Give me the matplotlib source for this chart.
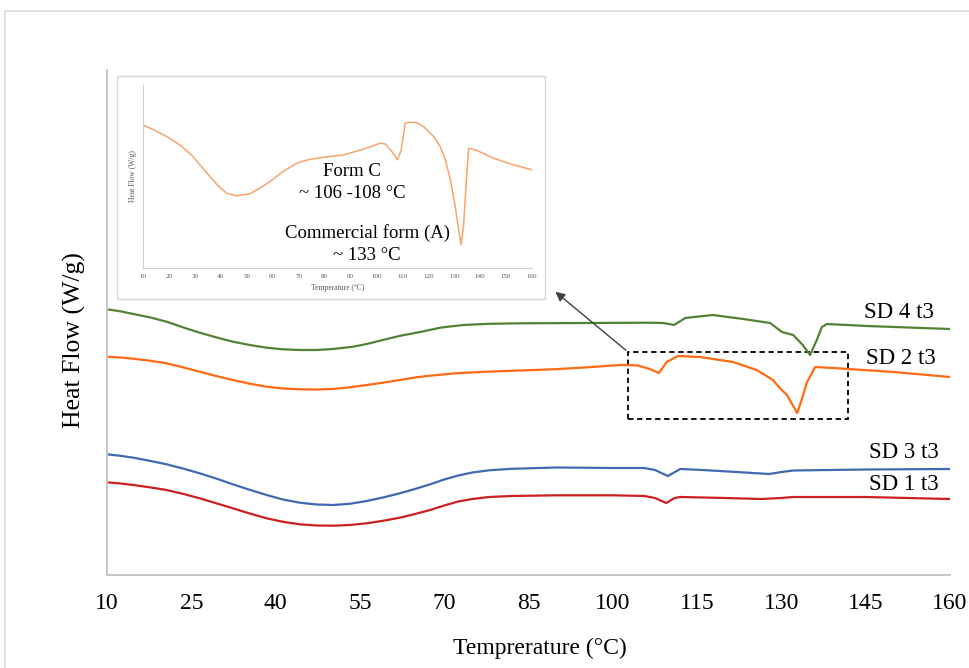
import matplotlib
matplotlib.use("Agg")
import matplotlib.pyplot as plt
from matplotlib.patches import Rectangle

plt.rcParams['font.family'] = ['Liberation Serif', 'DejaVu Serif']

# DSC traces, temperature (C) vs heat flow (arbitrary, offset)
sd4_t = [10, 12.4, 14.7, 17.6, 20.6, 23.5, 26.5, 29.4, 32.4, 35.4, 38.4, 41.3, 44.3, 47.3, 50.2,
         53.8, 56.2, 59.1, 62, 65.7, 69.5, 73.4, 78, 83.5, 95, 106.6, 109, 110.9, 112.9, 117.8,
         123.2, 128, 130.1, 132.1, 133.8, 135.1, 136.3, 137.2, 138.1, 145.2, 160]
sd4_hf = [2.657, 2.637, 2.61, 2.577, 2.533, 2.477, 2.423, 2.377, 2.333, 2.30, 2.273, 2.257, 2.25,
          2.25, 2.26, 2.283, 2.31, 2.35, 2.39, 2.43, 2.475, 2.50, 2.512, 2.517, 2.52, 2.523, 2.52,
          2.50, 2.57, 2.60, 2.56, 2.52, 2.43, 2.40, 2.30, 2.20, 2.35, 2.48, 2.51, 2.49, 2.46]

sd2_t = [10, 12.4, 14.7, 17.6, 20.6, 23.5, 26.5, 29.4, 32.4, 35.4, 38.4, 41.3, 44.3, 47.3, 50.2,
         53.2, 56.2, 59.1, 62.1, 65, 67.5, 72, 77.6, 83.5, 89.4, 95, 101.3, 104.3, 106.6, 108.2,
         109.6, 111.6, 115.5, 121.4, 125.6, 128.5, 129.7, 131, 132, 132.8, 133.6, 134.5, 136,
         139.2, 150, 160]
sd2_hf = [2.183, 2.175, 2.163, 2.143, 2.117, 2.077, 2.033, 1.99, 1.95, 1.913, 1.883, 1.865, 1.857,
          1.855, 1.86, 1.877, 1.90, 1.923, 1.95, 1.977, 1.993, 2.017, 2.033, 2.045, 2.057, 2.075,
          2.10, 2.097, 2.06, 2.02, 2.13, 2.19, 2.18, 2.13, 2.05, 1.95, 1.87, 1.80, 1.70, 1.62, 1.75,
          1.92, 2.08, 2.07, 2.03, 1.98]

sd3_t = [10, 12.4, 14.7, 17.6, 20.6, 23.5, 26.5, 29.4, 32.4, 35.4, 38.4, 41.3, 44.3, 47.3, 50.2,
         53.2, 56.2, 59.1, 62.1, 64.8, 67.5, 70, 72.5, 75, 78, 82, 90, 100, 105.6, 107.5, 109.8,
         112, 116, 122, 127.8, 130, 132.2, 145, 160]
sd3_hf = [1.207, 1.192, 1.173, 1.142, 1.107, 1.065, 1.017, 0.965, 0.907, 0.852, 0.80, 0.755, 0.723,
          0.705, 0.70, 0.712, 0.74, 0.775, 0.817, 0.86, 0.907, 0.955, 0.995, 1.025, 1.047, 1.062,
          1.075, 1.07, 1.07, 1.05, 0.99, 1.06, 1.05, 1.03, 1.01, 1.03, 1.045, 1.055, 1.06]

sd1_t = [10, 12.4, 14.7, 17.6, 20.6, 23.5, 26.5, 29.4, 32.4, 35.4, 38.4, 41.3, 44.3, 47.3, 50.2,
         53.2, 56.2, 59.1, 62.1, 64.8, 67.5, 70, 72.5, 75, 78, 82, 90, 100, 105.6, 107.5, 109.5,
         111, 112, 120, 126.4, 130, 132, 145, 160]
sd1_hf = [0.927, 0.915, 0.90, 0.877, 0.85, 0.812, 0.767, 0.718, 0.667, 0.615, 0.567, 0.532, 0.507,
          0.495, 0.493, 0.50, 0.517, 0.542, 0.573, 0.61, 0.65, 0.695, 0.735, 0.76, 0.78, 0.79,
          0.797, 0.797, 0.79, 0.77, 0.72, 0.77, 0.78, 0.77, 0.76, 0.77, 0.78, 0.78, 0.76]

# inset: single trace
ins_t = [10, 15, 20.3, 25, 29.3, 32.5, 35.8, 39, 42.2, 46.1, 51.2, 55, 59, 64, 69.3, 74, 79.6, 87.3,
         95, 101.4, 103.4, 106, 108.1, 109.6, 111.1, 112.4, 115.6, 118.2, 122.1, 124.6, 126.6,
         128.5, 130.4, 131.7, 132.6, 133.6, 134.7, 135.6, 138.8, 145.2, 151.6, 160]
ins_hf = [4.35, 4.17, 3.95, 3.70, 3.40, 3.10, 2.80, 2.52, 2.30, 2.22, 2.28, 2.45, 2.65, 2.95, 3.20,
          3.31, 3.38, 3.45, 3.62, 3.80, 3.78, 3.55, 3.30, 3.60, 4.40, 4.43, 4.42, 4.30, 4.00, 3.70,
          3.30, 2.70, 1.90, 1.20, 0.75, 1.30, 2.70, 3.65, 3.58, 3.35, 3.18, 3.00]

xticks = list(range(10, 161, 15))
inset_xticks = list(range(10, 161, 10))

fig = plt.figure(figsize=(9.7, 6.68), dpi=100)

# outer frame
fig.patches.append(Rectangle((5 / 970, -0.02), 1.0, 1 - 11 / 668 + 0.02, transform=fig.transFigure,
                             fill=False, edgecolor='#d9d9d9', linewidth=1.2))

ax = fig.add_axes([107 / 970, 1 - 575 / 668, 843 / 970, 505 / 668])
kw = dict(lw=1.6, solid_joinstyle='round', solid_capstyle='round')
ax.plot(sd4_t, sd4_hf, color='#548235', **kw)
ax.plot(sd2_t, sd2_hf, color='#ff6a13', **kw)
ax.plot(sd3_t, sd3_hf, color='#4169b0', **kw)
ax.plot(sd1_t, sd1_hf, color='#cc1f1f', **kw)

ax.set_xlim(10, 160)
ax.set_ylim(0, 5.05)
ax.set_xticks(xticks)
ax.set_yticks([])
ax.tick_params(axis='x', length=0, labelsize=17, pad=13)
for s in ['top', 'right']:
    ax.spines[s].set_visible(False)
for s in ['left', 'bottom']:
    ax.spines[s].set_color('#c8c8c8')
    ax.spines[s].set_linewidth(1.5)
ax.set_xlabel('Temprerature (°C)', fontsize=17, labelpad=17)
ax.set_ylabel('Heat Flow (W/g)', fontsize=18.5, labelpad=15)
ax.xaxis.label.set_x(0.514)
ax.yaxis.label.set_y(0.465)

for txt, xx, yy in [('SD 4 t3', 151, 2.62), ('SD 2 t3', 151.3, 2.17),
                    ('SD 3 t3', 151.8, 1.23), ('SD 1 t3', 151.8, 0.90)]:
    ax.text(xx, yy, txt, fontsize=16.5, ha='center', va='center')

# dashed zoom box and arrow
ax.add_patch(Rectangle((102.7, 1.56), 39.2, 0.67, fill=False, linestyle=(0, (3, 2)),
                       edgecolor='black', linewidth=1.3))
ax.annotate('', xy=(89.4, 2.85), xytext=(102.7, 2.23),
            arrowprops=dict(arrowstyle='-|>', color='#404040', lw=1.0, mutation_scale=14))

# inset frame
fig.patches.append(Rectangle((117 / 970, 1 - 299 / 668), 428 / 970, 223 / 668,
                             transform=fig.transFigure, facecolor='white',
                             edgecolor='#d9d9d9', linewidth=1.0, zorder=2))

axi = fig.add_axes([143 / 970, 1 - 268 / 668, 389 / 970, 183 / 668])
axi.set_zorder(3)
axi.patch.set_alpha(0)
axi.plot(ins_t, ins_hf, color='#f9a46a', lw=1.1, solid_joinstyle='round')
axi.set_xlim(10, 160)
axi.set_ylim(0.05, 5.55)
axi.set_xticks(inset_xticks)
axi.set_yticks([])
axi.tick_params(axis='x', length=0, labelsize=5, pad=4, labelcolor='#595959')
for s in ['top', 'right']:
    axi.spines[s].set_visible(False)
for s in ['left', 'bottom']:
    axi.spines[s].set_color('#d0d0d0')
    axi.spines[s].set_linewidth(0.8)
axi.set_xlabel('Temperature (°C)', fontsize=5.5, color='#595959', labelpad=4)
axi.set_ylabel('Heat Flow (W/g)', fontsize=5.5, color='#595959', labelpad=4)

axi.text(90.6, 2.94, 'Form C', fontsize=13.5, ha='center', va='center')
axi.text(90.6, 2.30, '~ 106 -108 °C', fontsize=13.5, ha='center', va='center')
axi.text(96.4, 1.10, 'Commercial form (A)', fontsize=13.5, ha='center', va='center')
axi.text(96.4, 0.44, '~ 133 °C', fontsize=13.5, ha='center', va='center')

fig.savefig('out.png', dpi=100)
